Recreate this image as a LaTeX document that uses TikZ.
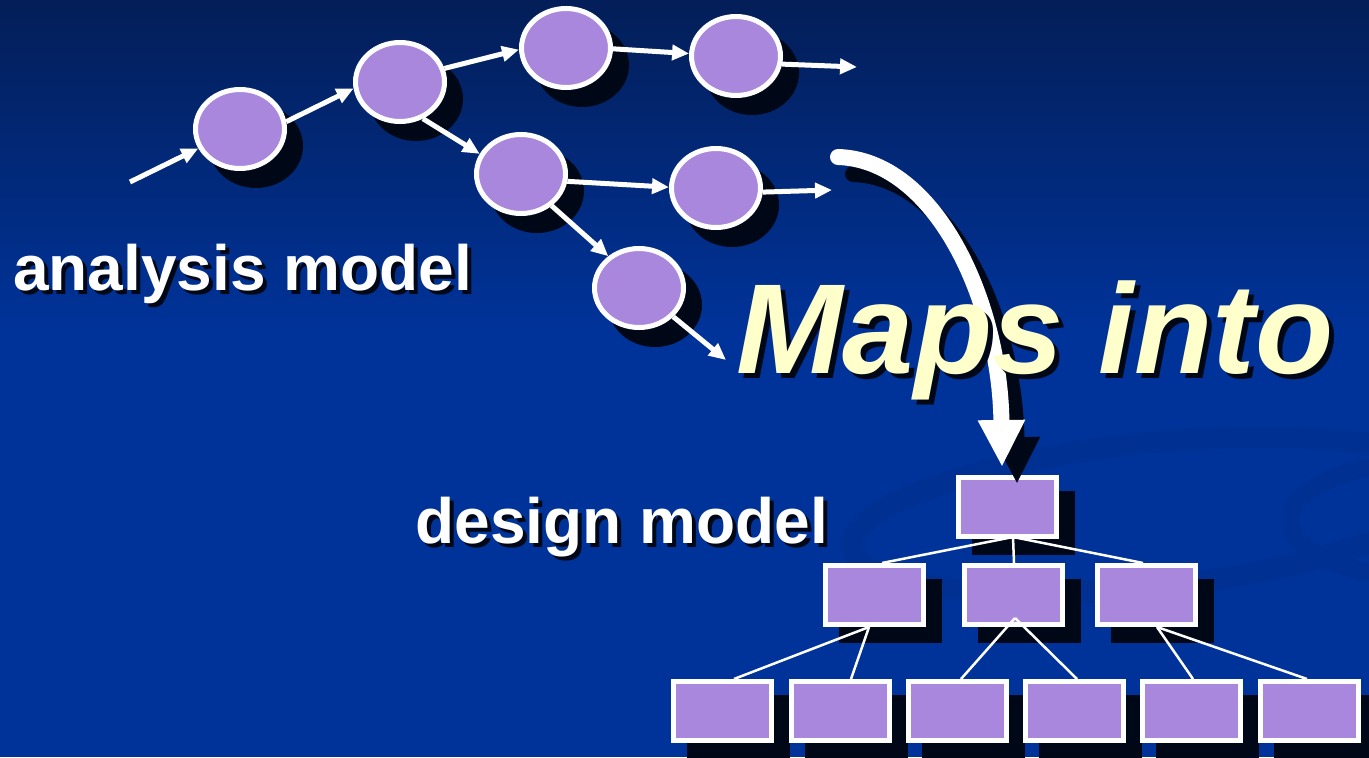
\documentclass[tikz,border=0pt]{standalone}
\usepackage{fontspec}
\setmainfont{Liberation Sans}
\usetikzlibrary{arrows.meta,shadows,shapes.geometric,calc}
\definecolor{bgtop}{RGB}{3,30,88}
\definecolor{bgmid}{RGB}{0,51,153}
\definecolor{lav}{RGB}{169,135,221}
\definecolor{shd}{RGB}{0,8,24}
\definecolor{mapsc}{RGB}{255,255,204}
\definecolor{swirlc}{RGB}{0,48,146}
\begin{document}
\begin{tikzpicture}[x=1bp,y=-1bp,
  oval/.style={ellipse, draw=white, line width=5bp, fill=lav, minimum width=89bp, minimum height=79bp, inner sep=0pt,
    copy shadow={shadow xshift=16bp, shadow yshift=-17bp, fill=shd, draw=shd}},
  box/.style={rectangle, draw=white, line width=5bp, fill=lav, minimum width=98bp, minimum height=59bp, inner sep=0pt,
    copy shadow={shadow xshift=16bp, shadow yshift=-16bp, fill=shd, draw=shd}},
  arr/.style={white, line width=5bp, -{Triangle[length=17bp,width=15bp]}},
  link/.style={white, line width=2.5bp},
  lbl/.style={anchor=base west, inner sep=0pt, text=white, font=\fontsize{64bp}{70bp}\selectfont\bfseries},
  lblshadow/.style={lbl, text=shd},
  bigtxt/.style={anchor=base west, inner sep=0pt, text=mapsc, font=\fontsize{128bp}{134bp}\selectfont\bfseries\itshape},
  bigtxtshadow/.style={bigtxt, text=shd},
  bigarr/.style={white, line width=16bp, line cap=round, -{Triangle[length=47bp,width=44bp]}},
  bigarrshadow/.style={bigarr, shd}
]
\useasboundingbox (0,0) rectangle (1369,757);
\clip (0,0) rectangle (1369,757);
% background
\fill[bgmid] (0,0) rectangle (1369,757);
\shade[top color=bgtop, bottom color=bgmid] (0,0) rectangle (1369,330);
\draw[swirlc, line width=22bp, rotate around={6:(1150,515)}] (1150,515) ellipse [x radius=300, y radius=72];
\draw[swirlc, line width=18bp] (1440,520) ellipse [x radius=150, y radius=60];

% analysis model graph
\node[oval] (e1) at (240,129) {};
\node[oval] (e2) at (400,82) {};
\node[oval] (e3) at (566,48) {};
\node[oval] (e4) at (736,56) {};
\node[oval] (e5) at (521,174) {};
\node[oval] (e6) at (716,188) {};
\node[oval] (e7) at (639,288) {};
\coordinate (in0) at (130,182);
\coordinate (out4) at (857,67);
\coordinate (out6) at (832,190);
\coordinate (out7) at (726,360);

\draw[arr] (in0) -- (e1.205);
\draw[arr] (e1.9) -- (e2.188);
\draw[arr] (e2.17) -- (e3.182);
\draw[arr] (e3.-1) -- (e4.177);
\draw[arr] (e4.-10) -- (out4);
\draw[arr] (e2.-58) -- (e5.154);
\draw[arr] (e5.-9) -- (e6.179);
\draw[arr] (e6.-5) -- (out6);
\draw[arr] (e5.-46) -- (e7.134);
\draw[arr] (e7.-40) -- (out7);

% labels
\node[lblshadow] (amS) at (17,294) {analysis model};
\node[lbl] (am) at (13,290) {analysis model};
\node[lblshadow] (dmS) at (419.5,547) {design model};
\node[lbl] (dm) at (415.5,543) {design model};

% design model tree
\node[box] (T) at (1007.5,507) {};
\node[box] (A) at (874,595) {};
\node[box] (B) at (1013,595) {};
\node[box] (C) at (1146,595) {};
\node[box] (L1) at (722.5,711) {};
\node[box] (L2) at (840,711) {};
\node[box] (L3) at (957,711) {};
\node[box] (L4) at (1074,711) {};
\node[box] (L5) at (1191.5,711) {};
\node[box] (L6) at (1309,711) {};

\draw[link] ([xshift=5.5bp,yshift=2bp]T.south) -- ([xshift=8bp]A.north);
\draw[link] ([xshift=5.5bp,yshift=2bp]T.south) -- ([xshift=1bp]B.north);
\draw[link] ([xshift=5.5bp,yshift=2bp]T.south) -- ([xshift=-3bp]C.north);
\draw[link] ([xshift=-5bp]A.south) -- ([xshift=11.5bp]L1.north);
\draw[link] ([xshift=-5bp]A.south) -- ([xshift=11bp]L2.north);
\draw[link] ([xshift=2bp,yshift=9bp]B.south) -- ([xshift=4bp]L3.north);
\draw[link] ([xshift=2bp,yshift=9bp]B.south) -- ([xshift=3bp]L4.north);
\draw[link] ([xshift=11bp]C.south) -- ([xshift=1.5bp]L5.north);
\draw[link] ([xshift=11bp]C.south) -- ([xshift=-2bp]L6.north);

% big arrow
\coordinate (bs) at (838,157);
\coordinate (be) at ([xshift=-5.5bp,yshift=8bp]T.north);
\draw[bigarrshadow] ([xshift=15bp,yshift=-17bp]bs) .. controls +(97,3) and +(-2,-167) .. ([xshift=15bp,yshift=-17bp]be);
\draw[bigarr] (bs) .. controls +(97,3) and +(-2,-167) .. (be);

% Maps into
\node[bigtxtshadow] (mpS) at (741,378) {Maps into};
\node[bigtxt] (mp) at (736,373) {Maps into};
\end{tikzpicture}
\end{document}
